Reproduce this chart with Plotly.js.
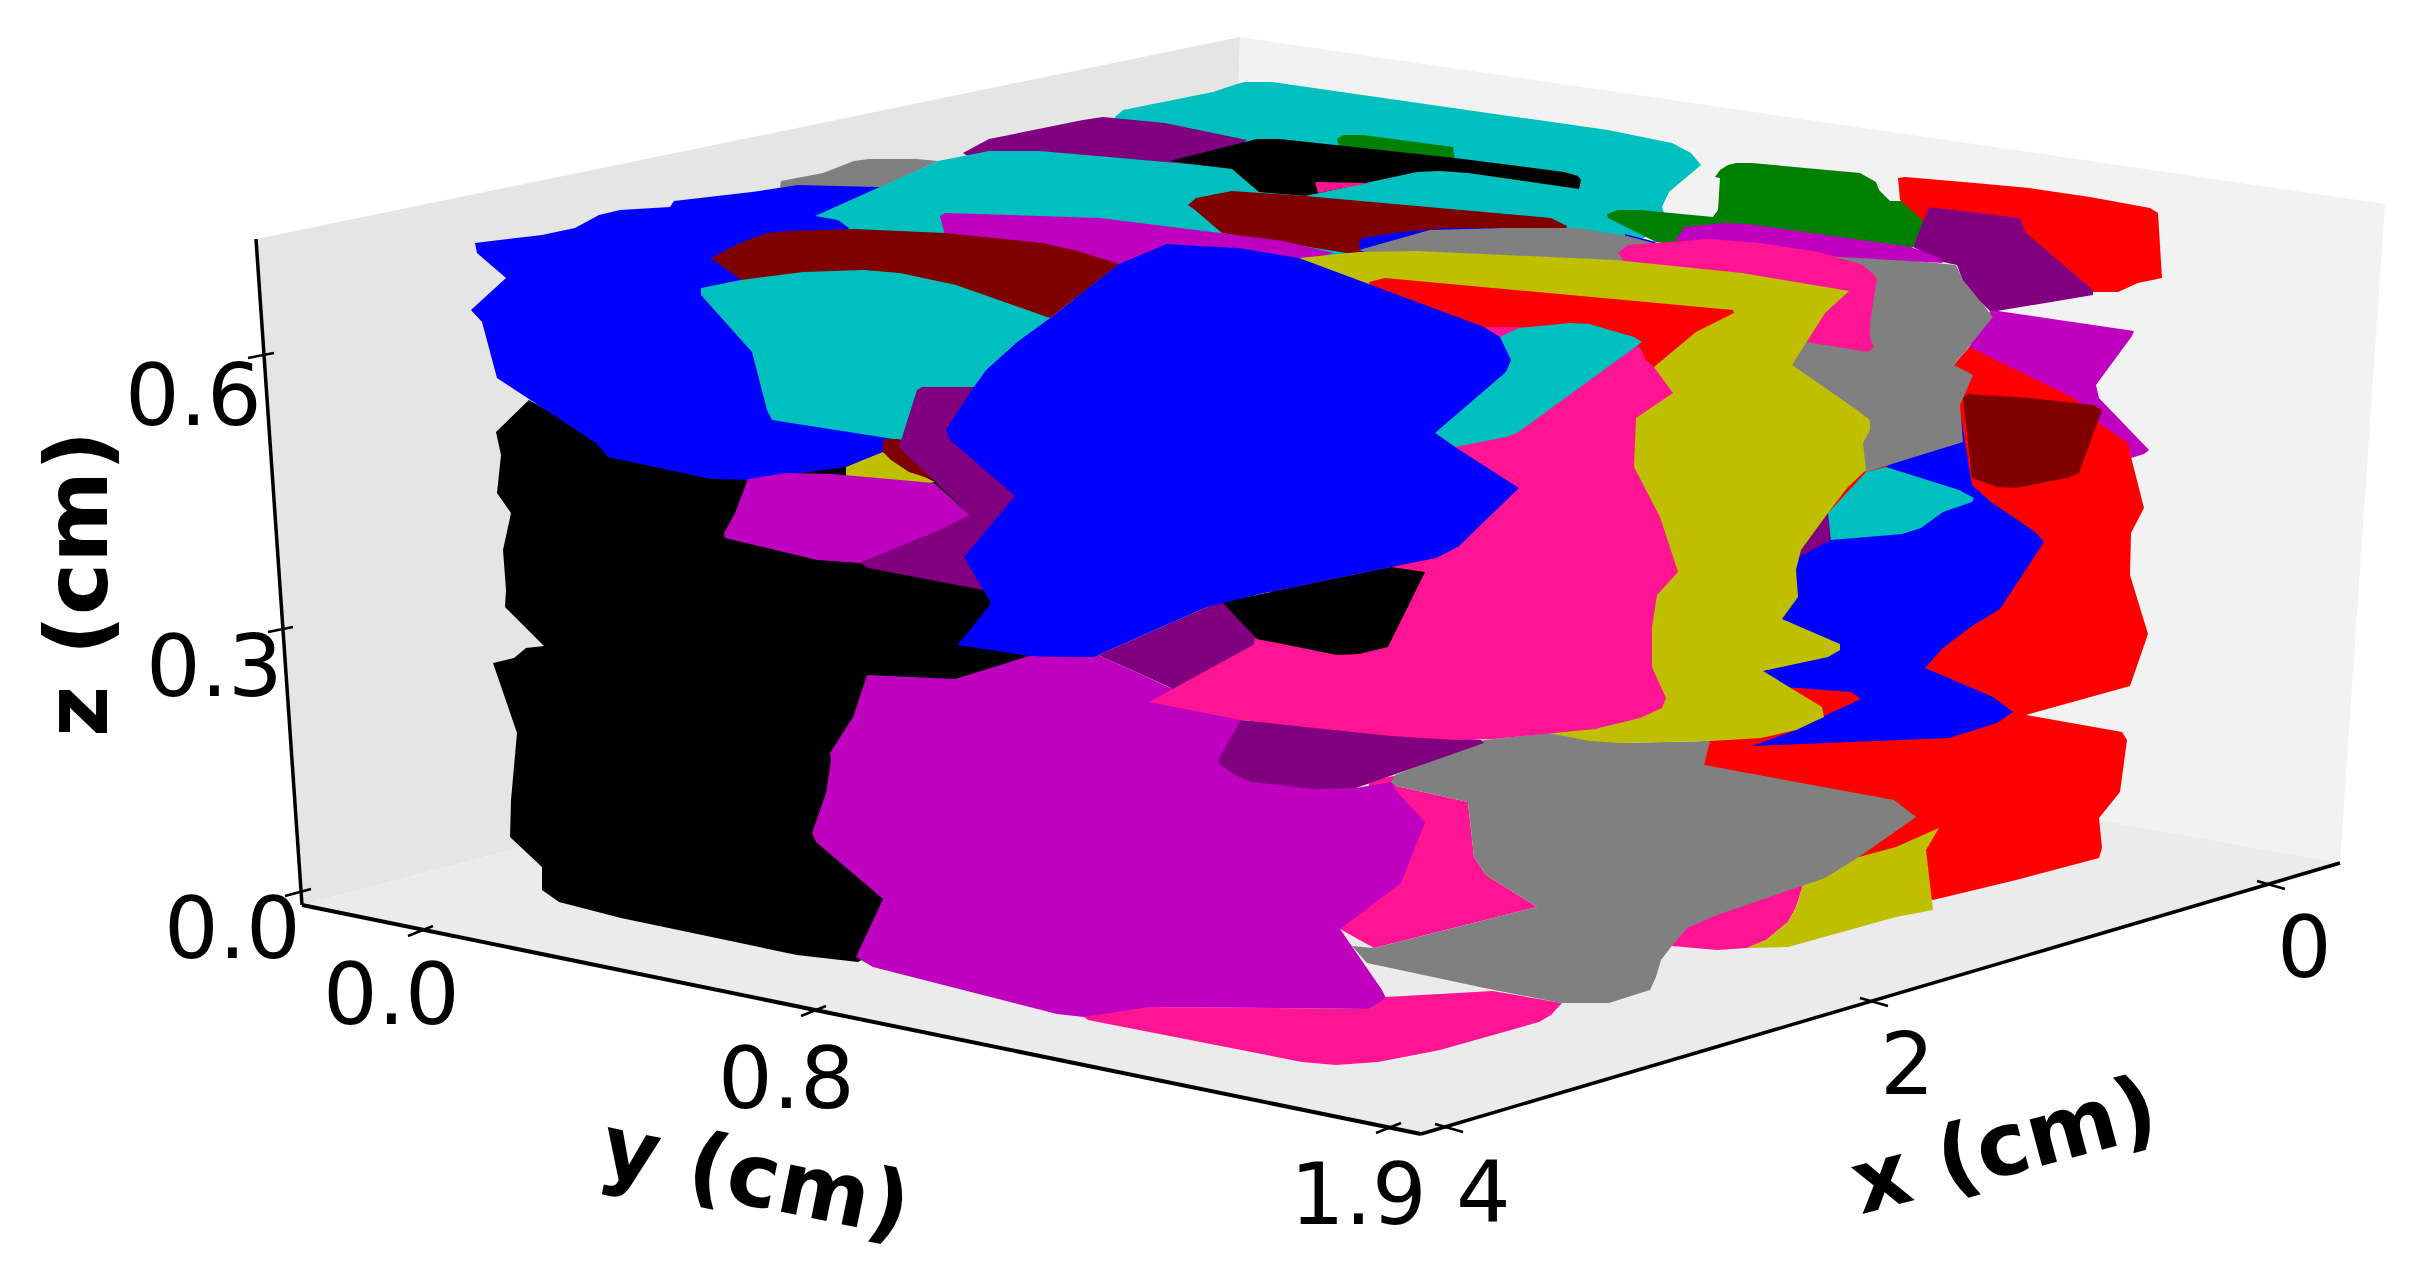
<!DOCTYPE html>
<html><head><meta charset="utf-8">
<script src="https://cdn.plot.ly/plotly-3.0.1.min.js"></script>
<style>html,body{margin:0;padding:0;background:#fff}</style></head>
<body><div id="plot" style="width:2409px;height:1266px"></div>
<script>
// Projected outlines, as x,y pairs.
const wallLeft=[256,239,1240,37,1222,663,302,905];
const wallRight=[1240,37,2385,204,2340,863,1222,663];
const floorPane=[302,905,1222,663,2340,863,1421,1134];
const blackBody=[529,400,496,432,501,455,497,493,511,513,503,550,506,590,505,607,544,646,526,648,514,658,493,663,517,733,511,800,510,837,542,867,542,890,559,902,621,918,797,955,858,962,880,950,1100,900,1100,660,1050,500,800,450,600,440];
const grayBack=[780,187,781,181,823,173,854,161,869,159,917,159,938,161,879,188,800,200];
const cyanBack=[1115,117,1123,110,1163,102,1213,92,1237,84,1245,82,1272,82,1347,93,1481,112,1608,130,1672,143,1691,153,1701,165,1669,192,1662,207,1668,225,1640,240,1600,260,1200,260,1100,200];
const purpleBack=[963,153,989,139,1083,120,1103,117,1165,123,1247,140,1215,165,1120,170,980,165];
const greenSliver=[1337,139,1343,135,1363,135,1453,147,1455,160,1340,150];
const blueLeft=[475,243,542,235,575,228,599,215,620,210,670,207,674,201,752,192,798,185,879,187,900,300,1000,450,940,470,882,453,846,467,747,480,711,479,608,457,596,443,530,400,497,378,482,322,471,310,506,278,477,253];
const cyanUpper=[815,216,938,161,989,151,1040,151,1200,165,1300,200,1400,230,1300,300,1000,300,850,250,849,228,838,220];
const blackUpper=[1170,161,1257,139,1280,139,1455,158,1564,172,1578,176,1581,180,1579,189,1468,173,1440,171,1417,172,1369,182,1305,196,1259,192,1232,169,1200,165];
const pinkSliver=[1315,182,1369,183,1318,193];
const maroonUpper=[1188,205,1196,198,1232,191,1305,196,1551,218,1567,226,1564,235,1400,250,1359,255,1222,233,1195,210];
const blueSliverA=[1359,243,1362,238,1400,232,1450,228,1510,228,1500,260,1361,256];
const blueSliverB=[1625,234,1656,242,1653,245,1625,238];
const magentaUpper=[940,216,945,213,1100,218,1220,233,1283,241,1334,253,1200,290,1050,260,945,235];
const maroonMid=[711,258,740,243,767,233,790,231,854,229,945,233,1042,243,1078,251,1119,264,1050,318,741,280];
const cyanMid=[701,288,741,280,803,272,864,270,900,273,956,285,1050,318,1017,342,986,370,973,388,900,440,772,420,767,410,752,352,701,295];
const oliveSmall=[846,467,883,452,895,462,935,482,900,490,846,480];
const maroonSmall=[883,439,899,439,934,480,909,472,891,460,883,452];
const purpleTall=[917,390,922,387,1000,387,1050,500,1040,590,983,590,868,568,860,563,945,528,970,515,899,447];
const magentaMid=[748,479,787,473,832,474,934,483,970,515,945,528,860,563,817,560,725,538,724,533,735,513];
const greenBig=[1715,177,1720,170,1728,165,1736,163,1752,163,1860,173,1876,182,1879,190,1890,201,1908,201,1927,207,1929,212,1913,247,1800,260,1656,242,1608,218,1607,214,1618,210,1640,210,1713,217,1718,210,1720,178];
const redBack=[1898,178,1905,177,1975,183,2029,188,2090,197,2150,208,2158,213,2162,278,2138,283,2118,292,2096,292,2000,290,1900,200];
const purpleRight=[1929,207,2020,218,2026,233,2093,290,2093,295,1991,312,1965,287,1957,265,1943,262,1913,247];
const magentaRight=[1991,310,2134,331,2132,336,2096,385,2099,398,2149,450,2144,454,2131,458,2100,470,2000,400,1969,347];
const redBig=[1969,347,2074,398,2099,423,2128,443,2131,457,2144,508,2131,533,2130,575,2148,634,2130,686,2026,715,2122,732,2127,740,2120,792,2099,818,2102,848,2099,858,2016,880,1933,900,1859,857,1704,765,1700,680,1800,450,1954,365];
const blueRight=[1886,467,1959,405,1968,460,1972,485,1991,502,2035,532,2044,542,2000,609,1972,626,1943,648,1925,668,1993,697,2013,712,1997,723,1949,738,1752,746,1796,730,1822,717,1861,699,1851,692,1784,687,1763,671,1700,600,1799,557];
const grayRear=[1359,250,1430,230,1506,228,1576,228,1627,236,1653,243,1720,245,1825,252,1956,265,1963,280,1993,317,1954,365,1973,375,1960,405,1963,442,1866,472,1700,400,1450,280];
const magentaSmall=[1675,240,1685,227,1723,223,1748,224,1911,247,1940,258,1943,263,1825,256,1700,250];
const pinkUpper=[1618,253,1627,245,1710,239,1760,243,1819,252,1863,265,1877,278,1870,323,1870,337,1874,347,1868,352,1806,342,1825,313,1849,291,1624,262];
const purpleSliver=[1828,513,1844,528,1844,533,1831,540,1801,556,1780,540];
const cyanSmall=[1886,467,1959,490,1974,498,1972,502,1943,512,1921,528,1902,534,1831,540,1828,513,1866,472];
const maroonRight=[1963,398,1968,394,2030,398,2093,405,2102,410,2079,473,2067,478,2016,488,1997,487,1972,478];
const pinkSmall=[1803,885,1796,907,1788,922,1766,940,1747,948,1717,950,1672,946,1660,900,1760,880];
const oliveLow=[1939,828,1926,850,1933,910,1896,917,1788,947,1747,948,1766,940,1788,922,1796,907,1803,885,1859,857,1896,847];
const pinkBottom=[1084,1017,1118,1008,1149,1007,1369,1009,1386,997,1493,991,1562,1003,1551,1015,1539,1022,1440,1050,1378,1062,1336,1065,1302,1062,1256,1053,1088,1020];
const pinkLow=[1396,786,1468,802,1474,857,1486,875,1537,907,1374,948,1340,929,1370,780,1400,775];
const grayFront=[1395,775,1391,782,1396,786,1468,802,1474,857,1486,875,1537,907,1374,948,1352,946,1367,963,1494,990,1561,1003,1609,1003,1650,990,1656,977,1661,960,1671,947,1687,928,1717,915,1803,885,1825,878,1859,857,1916,817,1894,800,1704,765,1710,741,1621,743,1548,733,1484,740];
const magentaBig=[867,675,955,679,1029,656,1093,657,1098,655,1169,687,1241,720,1356,788,1391,782,1398,793,1425,822,1401,883,1340,929,1382,990,1386,998,1369,1009,1149,1007,1084,1017,1057,1014,873,967,856,957,883,899,816,842,812,833,826,793,831,760,830,753,853,717];
const purpleLow=[1241,720,1481,740,1484,743,1356,788,1315,789,1251,782,1235,775,1218,763,1222,753];
const purpleUnder=[1098,655,1207,607,1223,602,1260,620,1270,660,1200,705,1169,687];
const oliveBig=[1299,258,1359,252,1417,251,1615,260,1742,273,1849,291,1825,313,1792,365,1857,410,1870,420,1870,430,1863,443,1866,470,1847,488,1828,513,1801,550,1796,570,1798,597,1782,619,1840,644,1840,650,1828,657,1763,671,1822,707,1824,717,1796,730,1761,738,1710,741,1621,743,1590,741,1548,733,1500,600];
const redUpper=[1369,282,1385,278,1733,310,1734,313,1696,332,1654,367,1500,420,1400,400];
const pinkBig=[1484,327,1520,327,1640,347,1646,360,1654,367,1673,393,1636,418,1634,467,1660,517,1678,572,1657,595,1652,627,1652,667,1666,698,1662,708,1640,718,1595,729,1493,739,1455,740,1391,736,1315,728,1241,720,1149,702,1253,645,1300,500];
const cyanCentre=[1500,337,1519,328,1570,323,1589,324,1634,337,1642,342,1634,348,1517,433,1506,437,1455,447,1435,433];
const blackPatch=[1222,602,1391,567,1425,572,1388,647,1359,654,1337,655,1257,639];
const blueCentre=[1167,244,1119,264,1050,318,1017,342,986,370,973,388,946,430,950,440,1015,496,980,538,964,557,991,603,970,630,957,645,1029,656,1093,657,1098,655,1207,607,1260,594,1391,567,1436,558,1458,547,1519,488,1455,447,1435,433,1506,372,1511,360,1500,337,1484,327,1299,258,1264,252,1238,248,1200,246];

const layers=[
 [blackBody,'#000000'],[grayBack,'#808080'],[cyanBack,'#00bfbf'],[purpleBack,'#800080'],[greenSliver,'#008000'],
 [blueLeft,'#0000ff'],[cyanUpper,'#00bfbf'],[blackUpper,'#000000'],[pinkSliver,'#ff1493'],[maroonUpper,'#800000'],
 [blueSliverA,'#0000ff'],[magentaUpper,'#bf00bf'],[maroonMid,'#800000'],[cyanMid,'#00bfbf'],[oliveSmall,'#bfbf00'],
 [maroonSmall,'#800000'],[purpleTall,'#800080'],[magentaMid,'#bf00bf'],[greenBig,'#008000'],[redBack,'#ff0000'],
 [purpleRight,'#800080'],[magentaRight,'#bf00bf'],[redBig,'#ff0000'],[blueRight,'#0000ff'],[blueSliverB,'#0000ff'],[grayRear,'#808080'],
 [magentaSmall,'#bf00bf'],[pinkUpper,'#ff1493'],[purpleSliver,'#800080'],[cyanSmall,'#00bfbf'],[maroonRight,'#800000'],
 [pinkSmall,'#ff1493'],[oliveLow,'#bfbf00'],[pinkBottom,'#ff1493'],[pinkLow,'#ff1493'],[grayFront,'#808080'],
 [magentaBig,'#bf00bf'],[purpleLow,'#800080'],[purpleUnder,'#800080'],[oliveBig,'#bfbf00'],[redUpper,'#ff0000'],
 [pinkBig,'#ff1493'],[cyanCentre,'#00bfbf'],[blackPatch,'#000000'],[blueCentre,'#0000ff']
];
const panes=[[wallLeft,'#e5e5e5'],[wallRight,'#f2f2f2'],[floorPane,'#ebebeb']];

const axisZ=[256,239,302,905], axisY=[302,905,1421,1134], axisX=[1421,1134,2340,863];
const ticksZ=[248,358,274,353, 268,632,293,627, 285,896,311,889];
const ticksY=[408,936,433,926, 801,1016,826,1006, 1376,1133,1401,1123];
const ticksX=[1435,1124,1463,1132, 1860,998,1888,1006, 2257,881,2285,889];

const tickLabels=['0.6','0.3','0.0','0.0','0.8','1.9','4','2','0'];
const tickLabelX=[193,214,232,391,786,1358,1483,1907,2304];
const tickLabelY=[395,666,928,994,1078,1194,1192,1064,947];
const axisTitles=['z (cm)','y (cm)','x (cm)'];
const axisTitleX=[76,756,2004];
const axisTitleY=[584,1175,1144];
const axisTitleAngle=[-90,11.6,-15];

function xs(p){return p.filter((_,i)=>i%2===0)}
function ys(p){return p.filter((_,i)=>i%2===1)}
function poly(p,c){return {type:'scatter',mode:'lines',x:xs(p).concat(p[0]),y:ys(p).concat(p[1]),fill:'toself',fillcolor:c,line:{width:0,color:c},hoverinfo:'skip',showlegend:false}}
function segs(p,w){
  const x=[],y=[];
  for(let i=0;i<p.length;i+=4){x.push(p[i],p[i+2],null);y.push(p[i+1],p[i+3],null)}
  return {type:'scatter',mode:'lines',x:x,y:y,line:{width:w,color:'#000'},hoverinfo:'skip',showlegend:false};
}
const traces=[...panes,...layers].map(l=>poly(l[0],l[1]));
traces.push(segs(axisZ,3.5),segs(axisY,4),segs(axisX,3.5),segs(ticksZ,2.5),segs(ticksY,2.5),segs(ticksX,2.5));

const annotations=tickLabels.map((t,i)=>({x:tickLabelX[i],y:tickLabelY[i],text:t,showarrow:false,xanchor:'center',yanchor:'middle',font:{family:'DejaVu Sans',size:86,color:'#000'}}))
 .concat(axisTitles.map((t,i)=>({x:axisTitleX[i],y:axisTitleY[i],text:'<b>'+t+'</b>',textangle:axisTitleAngle[i],showarrow:false,xanchor:'center',yanchor:'middle',font:{family:'DejaVu Sans',size:88,color:'#000'}})));

Plotly.newPlot('plot',traces,{
 width:2409,height:1266,margin:{l:0,r:0,t:0,b:0},paper_bgcolor:'#fff',plot_bgcolor:'#fff',showlegend:false,
 xaxis:{range:[0,2409],visible:false,fixedrange:true},
 yaxis:{range:[1266,0],visible:false,fixedrange:true},
 annotations:annotations
},{staticPlot:true,displayModeBar:false});
</script></body></html>
